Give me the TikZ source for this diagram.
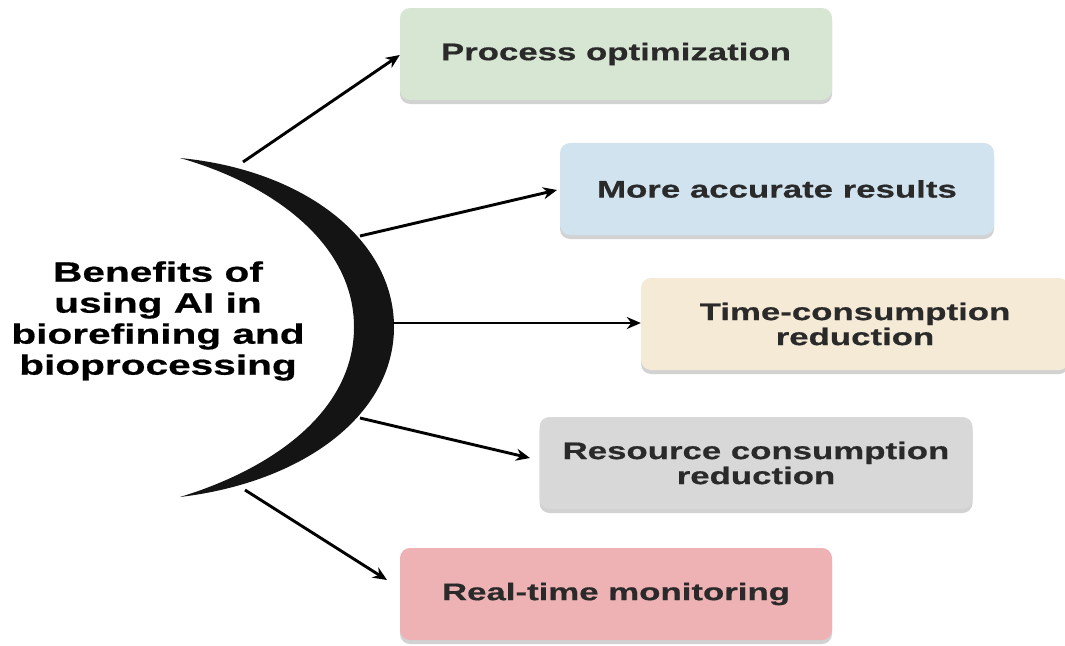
\documentclass[tikz,border=0pt]{standalone}
\usepackage{fontspec}
\newfontfamily\wide[FakeStretch=1.45,FakeBold=0.6]{Liberation Sans}
\usetikzlibrary{shadows,arrows.meta}
\definecolor{bgreen}{HTML}{D6E6D2}
\definecolor{bblue}{HTML}{D0E3EF}
\definecolor{bbeige}{HTML}{F5EAD5}
\definecolor{bgrey}{HTML}{D8D8D8}
\definecolor{bpink}{HTML}{EFB2B4}
\definecolor{btext}{HTML}{2A2A2A}
\tikzset{
  benefit/.style={rounded corners=10pt, minimum width=432pt, minimum height=92pt,
    inner sep=0pt, align=center, text=btext,
    font=\wide\bfseries\fontsize{24}{25}\selectfont,
    drop shadow={shadow xshift=0pt, shadow yshift=-4pt, opacity=0.35, fill=gray}},
  link/.style={line width=2.9pt, -{Stealth[length=14pt,width=12pt]}}
}
\begin{document}
\begin{tikzpicture}[x=1pt,y=-1pt]
\useasboundingbox (0,0) rectangle (1065,645);
\fill[white] (0,0) rectangle (1065,645);
% boxes
\node[benefit, fill=bgreen] (b1) at (616,54) {Process optimization};
\node[benefit, fill=bblue, minimum width=434pt] (b2) at (777,189) {More accurate results};
\node[benefit, fill=bbeige, minimum width=428pt] (b3) at (855,324) {Time-consumption\\reduction};
\node[benefit, fill=bgrey, minimum width=433pt] (b4) at (756,463) {Resource consumption\\reduction};
\node[benefit, fill=bpink] (b5) at (616,594) {Real-time monitoring};
% crescent
\fill[black!92] (180,158) .. controls (305,170) and (394,240) .. (394,327)
  .. controls (394,414) and (305,482) .. (180,497)
  .. controls (275,468) and (354,410) .. (354,327)
  .. controls (354,245) and (275,185) .. (180,158) -- cycle;
% title
\node[align=center, font=\wide\bfseries\fontsize{28}{31}\selectfont, inner sep=0pt] (title) at (158,321)
  {Benefits of\\using AI in\\biorefining and\\bioprocessing};
% connector start points on the crescent
\coordinate (s1) at (243,162);
\coordinate (s2) at (360,236);
\coordinate (s3) at (393,323);
\coordinate (s4) at (360,418);
\coordinate (s5) at (245,490);
\coordinate (e1) at (b1.west |- 0,55);
\coordinate (e2) at (557,190);
\coordinate (e3) at (b3.west |- 0,323);
\coordinate (e4) at (530,458);
\coordinate (e5) at (387,580);
\draw[link] (s1) -- (e1);
\draw[link] (s2) -- (e2);
\draw[link] (s3) -- (e3);
\draw[link] (s4) -- (e4);
\draw[link] (s5) -- (e5);
\end{tikzpicture}
\end{document}
